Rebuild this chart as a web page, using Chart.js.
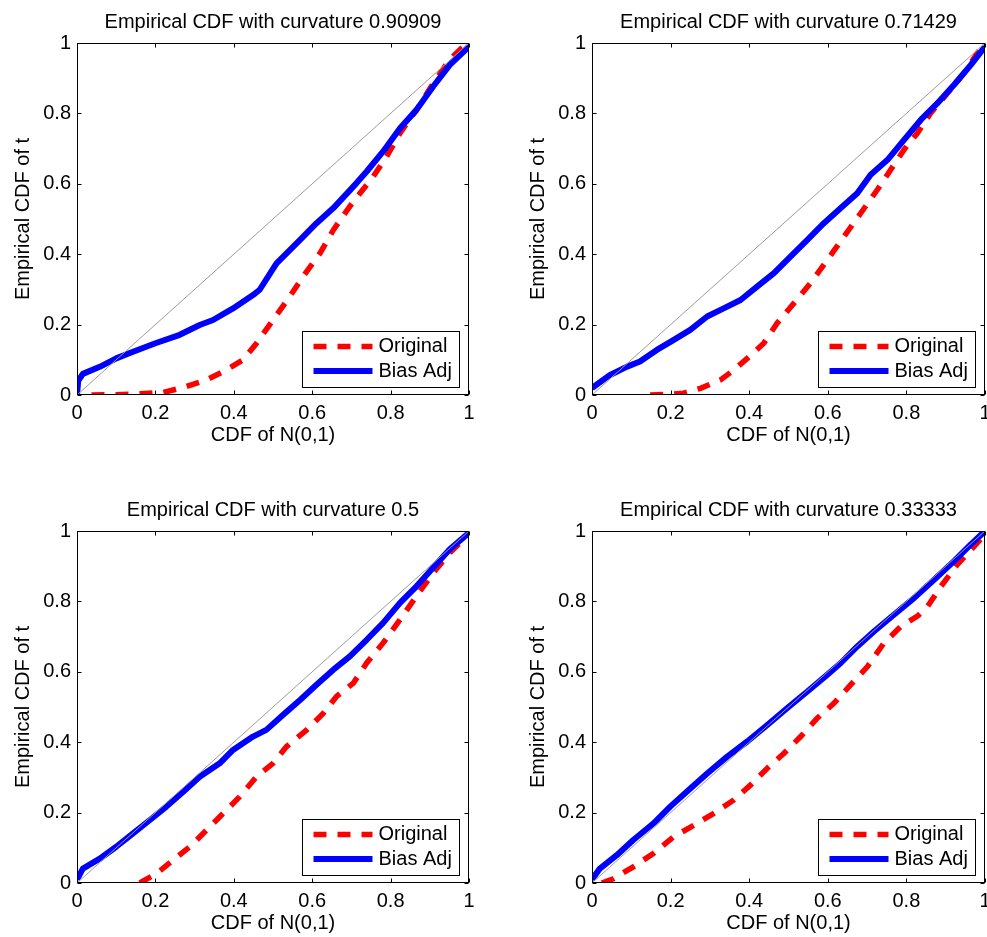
<!doctype html>
<html lang="en">
<head>
<meta charset="utf-8" />
<title>Empirical CDF vs curvature</title>
<style>
  html,body{margin:0;padding:0;background:#fff;overflow:hidden}
  .panel{position:absolute;width:490px;height:468px}
</style>
<script src="https://cdn.jsdelivr.net/npm/chart.js@4.4.1/dist/chart.umd.min.js"></script>
</head>
<body>
<div class="panel" style="left:0;top:0"><canvas id="c1"></canvas></div>
<div class="panel" style="left:515px;top:0"><canvas id="c2"></canvas></div>
<div class="panel" style="left:0;top:488px"><canvas id="c3"></canvas></div>
<div class="panel" style="left:515px;top:488px"><canvas id="c4"></canvas></div>

<script>
// values, x = CDF of N(0,1), y = empirical CDF of t
const curvatures = ["0.90909", "0.71429", "0.5", "0.33333"];
const tickValues = [0, 0.2, 0.4, 0.6, 0.8, 1];
const diagX = [0, 1];
const diagY = [0, 1];

const orig1X = [0.037, 0.1, 0.15, 0.22, 0.279, 0.33, 0.381, 0.424, 0.458, 0.5, 0.543, 0.577, 0.62, 0.654, 0.696, 0.722, 0.756, 0.79, 0.824, 0.866, 0.909, 0.951, 0.994];
const orig1Y = [0, 0.001, 0.003, 0.007, 0.024, 0.043, 0.071, 0.1, 0.147, 0.213, 0.28, 0.337, 0.403, 0.469, 0.536, 0.573, 0.621, 0.678, 0.744, 0.81, 0.886, 0.953, 1.0];
const bias1X = [0, 0.003, 0.015, 0.058, 0.1, 0.143, 0.2, 0.262, 0.313, 0.347, 0.398, 0.449, 0.466, 0.509, 0.569, 0.611, 0.654, 0.713, 0.739, 0.781, 0.824, 0.866, 0.909, 0.951, 1];
const bias1Y = [0, 0.04, 0.06, 0.08, 0.104, 0.123, 0.147, 0.171, 0.199, 0.213, 0.246, 0.284, 0.299, 0.374, 0.441, 0.488, 0.531, 0.602, 0.635, 0.692, 0.758, 0.81, 0.877, 0.938, 0.99];

const orig2X = [0.148, 0.2, 0.233, 0.276, 0.327, 0.361, 0.395, 0.437, 0.471, 0.514, 0.556, 0.599, 0.641, 0.684, 0.726, 0.76, 0.794, 0.828, 0.862, 0.905, 0.947, 0.981, 0.998];
const orig2Y = [0, 0.002, 0.005, 0.019, 0.043, 0.071, 0.104, 0.147, 0.204, 0.261, 0.318, 0.384, 0.45, 0.517, 0.583, 0.64, 0.697, 0.744, 0.801, 0.858, 0.915, 0.972, 1.0];
const bias2X = [0, 0.046, 0.088, 0.122, 0.165, 0.207, 0.25, 0.293, 0.335, 0.378, 0.42, 0.463, 0.505, 0.548, 0.59, 0.633, 0.675, 0.709, 0.752, 0.794, 0.837, 0.879, 0.922, 0.964, 1];
const bias2Y = [0.02, 0.057, 0.08, 0.095, 0.128, 0.156, 0.185, 0.223, 0.246, 0.27, 0.308, 0.346, 0.393, 0.441, 0.488, 0.531, 0.573, 0.626, 0.668, 0.725, 0.782, 0.829, 0.882, 0.938, 0.99];

const orig3X = [0.16, 0.203, 0.245, 0.288, 0.33, 0.373, 0.415, 0.458, 0.5, 0.534, 0.586, 0.628, 0.662, 0.705, 0.739, 0.781, 0.824, 0.866, 0.909, 0.951, 0.986, 0.994];
const orig3Y = [0, 0.027, 0.065, 0.103, 0.15, 0.198, 0.245, 0.302, 0.34, 0.387, 0.435, 0.482, 0.53, 0.568, 0.625, 0.682, 0.748, 0.815, 0.881, 0.938, 0.976, 0.99];
const bias3X = [0, 0.015, 0.058, 0.1, 0.143, 0.186, 0.228, 0.271, 0.313, 0.364, 0.398, 0.449, 0.483, 0.526, 0.569, 0.611, 0.654, 0.696, 0.739, 0.781, 0.824, 0.866, 0.909, 0.951, 1];
const bias3Y = [0.01, 0.041, 0.069, 0.103, 0.141, 0.179, 0.217, 0.259, 0.302, 0.34, 0.378, 0.416, 0.435, 0.478, 0.52, 0.563, 0.606, 0.644, 0.691, 0.739, 0.796, 0.843, 0.896, 0.948, 0.995];

const orig4X = [0.025, 0.054, 0.105, 0.156, 0.207, 0.259, 0.31, 0.361, 0.403, 0.446, 0.488, 0.531, 0.573, 0.616, 0.658, 0.701, 0.743, 0.786, 0.828, 0.854, 0.888, 0.93, 0.973, 1];
const orig4Y = [0, 0.012, 0.046, 0.084, 0.131, 0.164, 0.198, 0.236, 0.278, 0.326, 0.368, 0.416, 0.468, 0.511, 0.563, 0.615, 0.682, 0.729, 0.758, 0.786, 0.843, 0.905, 0.957, 0.99];
const bias4X = [0, 0.02, 0.063, 0.105, 0.156, 0.199, 0.241, 0.293, 0.344, 0.395, 0.446, 0.497, 0.548, 0.599, 0.633, 0.675, 0.718, 0.769, 0.82, 0.871, 0.922, 0.964, 1];
const bias4Y = [0.01, 0.041, 0.079, 0.122, 0.169, 0.217, 0.259, 0.311, 0.359, 0.402, 0.449, 0.497, 0.544, 0.592, 0.625, 0.672, 0.715, 0.763, 0.81, 0.862, 0.915, 0.962, 1.0];

const panels = [
  { id: "c1", origX: orig1X, origY: orig1Y, biasX: bias1X, biasY: bias1Y },
  { id: "c2", origX: orig2X, origY: orig2Y, biasX: bias2X, biasY: bias2Y },
  { id: "c3", origX: orig3X, origY: orig3Y, biasX: bias3X, biasY: bias3Y },
  { id: "c4", origX: orig4X, origY: orig4Y, biasX: bias4X, biasY: bias4Y },
];

const FONT = { family: "'Liberation Sans', Arial, Helvetica, sans-serif", size: 20, lineHeight: 1.2 };
Chart.defaults.font.family = FONT.family;
Chart.defaults.color = "#000";

const pts = (xs, ys) => xs.map((x, i) => ({ x, y: ys[i] }));
const fmt = v => String(Math.round(v * 10) / 10);

// title above the axes box, centred on the plot area
const titlePlugin = {
  id: "axTitle",
  afterDraw(chart, args, opts) {
    const { ctx, chartArea: a } = chart;
    ctx.save();
    ctx.font = `${FONT.size}px ${FONT.family}`;
    ctx.fillStyle = "#000";
    ctx.textAlign = "center";
    ctx.textBaseline = "middle";
    ctx.fillText(opts.text, (a.left + a.right) / 2, 22);
    ctx.restore();
  }
};

// closed box with inward tick marks on all four sides
const boxPlugin = {
  id: "axBox",
  afterDatasetsDraw(chart) {
    const { ctx, chartArea: a, scales: { x, y } } = chart;
    const L = Math.round(a.left) + 0.5, R = Math.round(a.right) - 0.5;
    const T = Math.round(a.top) + 0.5, B = Math.round(a.bottom) - 0.5;
    ctx.save();
    ctx.strokeStyle = "#000";
    ctx.lineWidth = 1;
    ctx.strokeRect(L, T, R - L, B - T);
    ctx.beginPath();
    tickValues.forEach(v => {
      const px = Math.round(x.getPixelForValue(v)) + 0.5;
      const py = Math.round(y.getPixelForValue(v)) + 0.5;
      ctx.moveTo(px, B); ctx.lineTo(px, B - 4);
      ctx.moveTo(px, T); ctx.lineTo(px, T + 4);
      ctx.moveTo(L, py); ctx.lineTo(L + 4, py);
      ctx.moveTo(R, py); ctx.lineTo(R - 4, py);
    });
    ctx.stroke();
    ctx.restore();
  }
};

// legend box in the lower right corner of the axes
const legendPlugin = {
  id: "boxLegend",
  afterDraw(chart) {
    const { ctx, chartArea: a } = chart;
    const w = 157, h = 56;
    const bx = Math.round(a.right) - 10 - w + 0.5, by = Math.round(a.bottom) - 8 - h + 0.5;
    ctx.save();
    ctx.fillStyle = "#fff";
    ctx.fillRect(bx, by, w, h);
    ctx.strokeStyle = "#000";
    ctx.lineWidth = 1;
    ctx.strokeRect(bx, by, w, h);
    const rows = chart.data.datasets.filter(d => d.label).sort((p, q) => q.order - p.order);
    rows.forEach((d, i) => {
      const yy = by + 15 + i * 24.5;
      ctx.strokeStyle = d.borderColor;
      ctx.lineWidth = d.borderWidth;
      ctx.setLineDash(d.borderDash || []);
      ctx.beginPath();
      ctx.moveTo(bx + 11, yy); ctx.lineTo(bx + 70, yy);
      ctx.stroke();
      ctx.setLineDash([]);
      ctx.fillStyle = "#000";
      ctx.font = `${FONT.size}px ${FONT.family}`;
      ctx.textBaseline = "middle";
      ctx.fillText(d.label, bx + 76, yy);
    });
    ctx.restore();
  }
};

panels.forEach((p, k) => {
  new Chart(document.getElementById(p.id), {
    type: "line",
    data: {
      datasets: [
        { data: pts(diagX, diagY), borderColor: "#9c9c9c", borderWidth: 1, pointRadius: 0, order: 0 },
        { label: "Bias Adj", data: pts(p.biasX, p.biasY), borderColor: "#0000ff", borderWidth: 6,
          pointRadius: 0, borderJoinStyle: "round", order: 1 },
        { label: "Original", data: pts(p.origX, p.origY), borderColor: "#ff0000", borderWidth: 5.5,
          borderDash: [13, 11], pointRadius: 0, order: 2 },
      ]
    },
    options: {
      responsive: true,
      maintainAspectRatio: false,
      animation: false,
      events: [],
      layout: { padding: { top: 43, right: k % 2 ? 20 : 21, bottom: 0, left: 0 } },
      elements: { line: { tension: 0, fill: false } },
      plugins: { legend: { display: false }, tooltip: { enabled: false }, axTitle: { text: "Empirical CDF with curvature " + curvatures[k] } },
      scales: {
        x: {
          type: "linear", min: 0, max: 1,
          afterFit: s => { s.height = 73; },
          afterBuildTicks: s => { s.ticks = tickValues.map(v => ({ value: v })); },
          grid: { display: false, drawTicks: false },
          border: { display: false },
          ticks: { padding: 6, font: FONT, color: "#000", autoSkip: false, maxRotation: 0, callback: fmt },
          title: { display: true, text: "CDF of N(0,1)", font: FONT, color: "#000", padding: { top: 0, bottom: 21 } }
        },
        y: {
          type: "linear", min: 0, max: 1,
          afterFit: s => { s.width = 77; },
          afterBuildTicks: s => { s.ticks = tickValues.map(v => ({ value: v })); },
          grid: { display: false, drawTicks: false },
          border: { display: false },
          ticks: { padding: 6, font: FONT, color: "#000", callback: fmt },
          title: { display: true, text: "Empirical CDF of t", font: FONT, color: "#000", padding: { top: 11, bottom: 0 } }
        }
      }
    },
    plugins: [titlePlugin, boxPlugin, legendPlugin]
  });
});
</script>
</body>
</html>
